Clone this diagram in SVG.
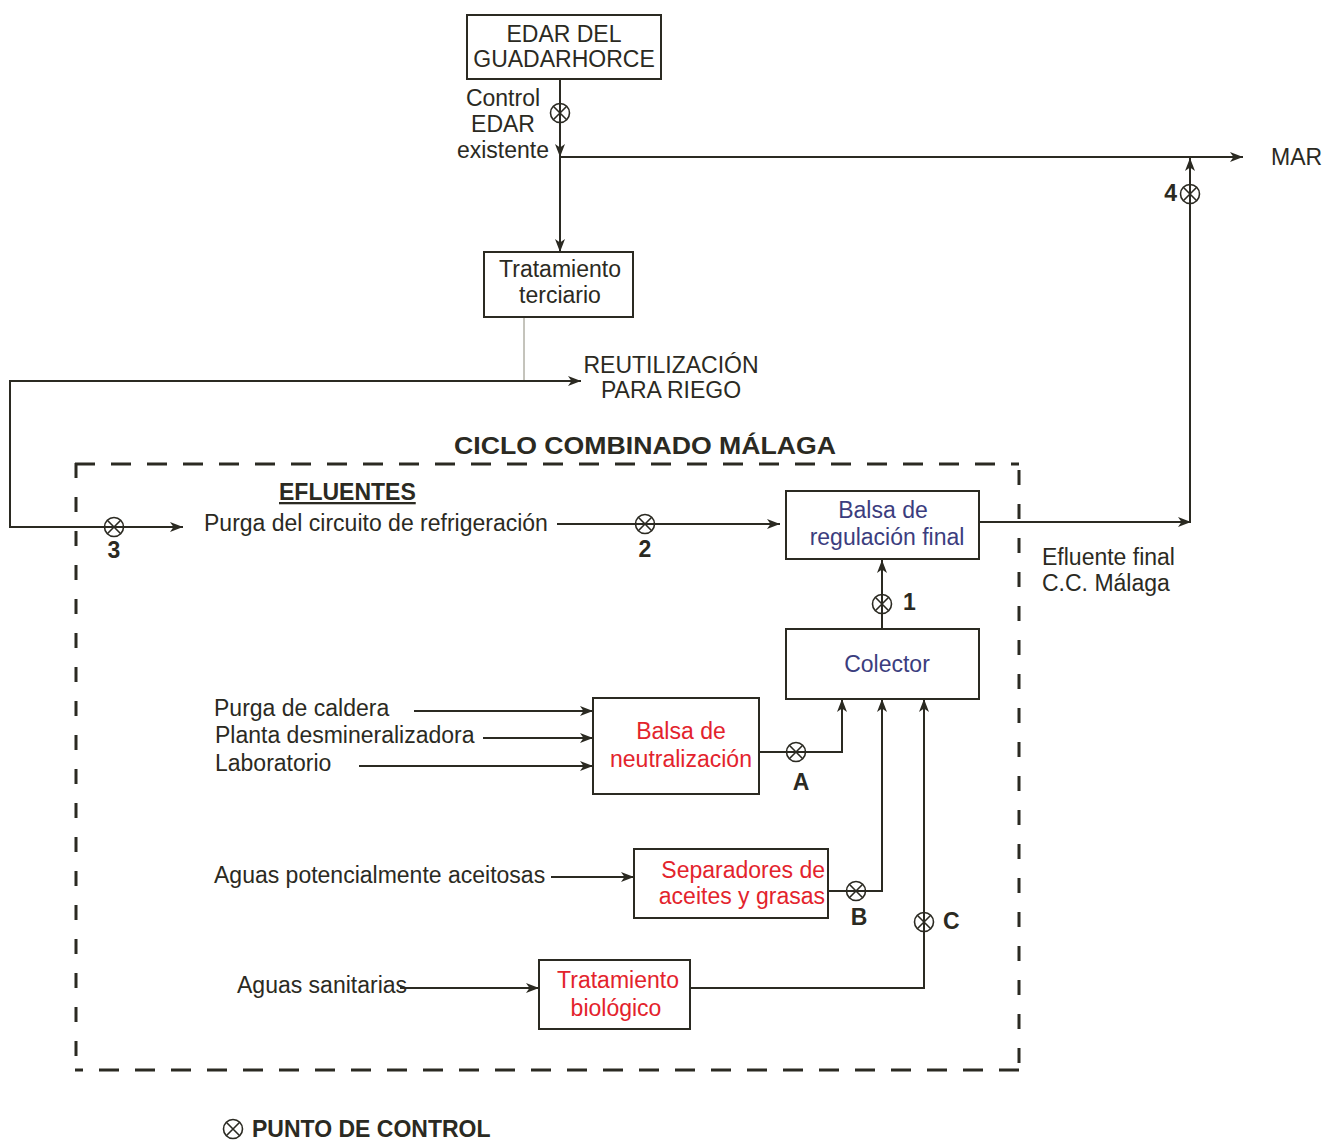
<svg xmlns="http://www.w3.org/2000/svg" xmlns:xlink="http://www.w3.org/1999/xlink" width="1323" height="1140" viewBox="0 0 1323 1140">
<style>
  .t { font-family: "Liberation Sans", Arial, sans-serif; font-size: 23px; fill: #2b2a22; }
  .b { font-weight: bold; }
  .red { fill: #e3232c; }
  .blue { fill: #3b3d7e; }
  .box { fill: #ffffff; stroke: #2b2a22; stroke-width: 2; }
  .ln { fill: none; stroke: #2b2a22; stroke-width: 2; }
  .thin { fill: none; stroke: #8a8878; stroke-width: 1; }
  .dash { fill: none; stroke: #2b2a22; stroke-width: 3; }
</style>
<defs>
  <marker id="arr" viewBox="0 0 13 10" refX="13" refY="5" markerWidth="13" markerHeight="10" markerUnits="userSpaceOnUse" orient="auto">
    <path d="M0,0 L13,5 L0,10 L3.5,5 z" fill="#2b2a22"/>
  </marker>
  <g id="ctl">
    <circle cx="0" cy="0" r="9.5" fill="none" stroke="#2b2a22" stroke-width="1.6"/>
    <path d="M-6.7,-6.7 L6.7,6.7 M-6.7,6.7 L6.7,-6.7" stroke="#2b2a22" stroke-width="1.6"/>
  </g>
</defs>
<rect width="1323" height="1140" fill="#ffffff"/>

<g id="boundary">
  <line class="dash" x1="75" y1="464" x2="1019" y2="464" stroke-dasharray="20 16"/>
  <line class="dash" x1="1019" y1="1070" x2="75" y2="1070" stroke-dasharray="20 16"/>
  <line class="dash" x1="76" y1="463" x2="76" y2="1071" stroke-dasharray="15 19"/>
  <line class="dash" x1="1019" y1="470" x2="1019" y2="1071" stroke-dasharray="15 19"/>
  <text class="t b" x="454" y="454" font-size="27" textLength="382" lengthAdjust="spacingAndGlyphs">CICLO COMBINADO MÁLAGA</text>
</g>

<g id="connectors">
  <path class="ln" d="M560,79 V157" marker-end="url(#arr)"/>
  <path class="ln" d="M560,157 V252" marker-end="url(#arr)"/>
  <path class="ln" d="M560,157 H1243" marker-end="url(#arr)"/>
  <path class="thin" d="M524,317 V381"/>
  <path class="ln" d="M10,381 H581" marker-end="url(#arr)"/>
  <path class="ln" d="M10,380 V527 H183" marker-end="url(#arr)"/>
  <path class="ln" d="M557,524 H780" marker-end="url(#arr)"/>
  <path class="ln" d="M979,522 H1191" marker-end="url(#arr)"/>
  <path class="ln" d="M1190,522 V158" marker-end="url(#arr)"/>
  <path class="ln" d="M882,629 V560" marker-end="url(#arr)"/>
  <path class="ln" d="M414,711 H593" marker-end="url(#arr)"/>
  <path class="ln" d="M483,738 H593" marker-end="url(#arr)"/>
  <path class="ln" d="M359,766 H593" marker-end="url(#arr)"/>
  <path class="ln" d="M759,752 H842 V699" marker-end="url(#arr)"/>
  <path class="ln" d="M551,877 H634" marker-end="url(#arr)"/>
  <path class="ln" d="M828,891 H882 V699" marker-end="url(#arr)"/>
  <path class="ln" d="M400,988 H539" marker-end="url(#arr)"/>
  <path class="ln" d="M690,988 H924 V699" marker-end="url(#arr)"/>
</g>

<g id="controls">
  <use xlink:href="#ctl" x="560" y="113"/>
  <use xlink:href="#ctl" x="1190" y="194"/>
  <text class="t b" x="1177" y="201" text-anchor="end" font-size="20">4</text>
  <use xlink:href="#ctl" x="114" y="527"/>
  <text class="t b" x="114" y="558" text-anchor="middle" font-size="20">3</text>
  <use xlink:href="#ctl" x="645" y="524"/>
  <text class="t b" x="645" y="557" text-anchor="middle" font-size="20">2</text>
  <use xlink:href="#ctl" x="882" y="604"/>
  <text class="t b" x="903" y="610" font-size="20">1</text>
  <use xlink:href="#ctl" x="796" y="752"/>
  <text class="t b" x="801" y="790" text-anchor="middle" font-size="20">A</text>
  <use xlink:href="#ctl" x="856" y="891"/>
  <text class="t b" x="859" y="925" text-anchor="middle" font-size="20">B</text>
  <use xlink:href="#ctl" x="924" y="922"/>
  <text class="t b" x="943" y="929" font-size="20">C</text>
</g>

<g id="edar">
  <rect class="box" x="467" y="15" width="194" height="64"/>
  <text class="t" x="564" y="42" text-anchor="middle">EDAR DEL</text>
  <text class="t" x="564" y="67" text-anchor="middle">GUADARHORCE</text>
</g>
<g id="control-edar-label">
  <text class="t" x="503" y="106" text-anchor="middle">Control</text>
  <text class="t" x="503" y="132" text-anchor="middle">EDAR</text>
  <text class="t" x="503" y="158" text-anchor="middle">existente</text>
</g>
<g id="mar">
  <text class="t" x="1271" y="165">MAR</text>
</g>
<g id="tratamiento-terciario">
  <rect class="box" x="484" y="252" width="149" height="65"/>
  <text class="t" x="560" y="277" text-anchor="middle">Tratamiento</text>
  <text class="t" x="560" y="303" text-anchor="middle">terciario</text>
</g>
<g id="reutilizacion">
  <text class="t" x="671" y="373" text-anchor="middle">REUTILIZACIÓN</text>
  <text class="t" x="671" y="398" text-anchor="middle">PARA RIEGO</text>
</g>
<g id="efluentes">
  <text class="t b" x="279" y="500" text-decoration="underline">EFLUENTES</text>
</g>
<g id="purga-refrigeracion">
  <text class="t" x="204" y="531">Purga del circuito de refrigeración</text>
</g>
<g id="balsa-regulacion">
  <rect class="box" x="786" y="491" width="193" height="68"/>
  <text class="t blue" x="883" y="518" text-anchor="middle">Balsa de</text>
  <text class="t blue" x="887" y="545" text-anchor="middle">regulación final</text>
</g>
<g id="efluente-final">
  <text class="t" x="1042" y="565">Efluente final</text>
  <text class="t" x="1042" y="591">C.C. Málaga</text>
</g>
<g id="colector">
  <rect class="box" x="786" y="629" width="193" height="70"/>
  <text class="t blue" x="887" y="672" text-anchor="middle">Colector</text>
</g>
<g id="inputs-neutralizacion">
  <text class="t" x="214" y="716">Purga de caldera</text>
  <text class="t" x="215" y="743">Planta desmineralizadora</text>
  <text class="t" x="215" y="771">Laboratorio</text>
</g>
<g id="balsa-neutralizacion">
  <rect class="box" x="593" y="698" width="166" height="96"/>
  <text class="t red" x="681" y="739" text-anchor="middle">Balsa de</text>
  <text class="t red" x="681" y="767" text-anchor="middle">neutralización</text>
</g>
<g id="aguas-aceitosas">
  <text class="t" x="214" y="883">Aguas potencialmente aceitosas</text>
</g>
<g id="separadores">
  <rect class="box" x="634" y="849" width="194" height="69"/>
  <text class="t red" x="825" y="878" text-anchor="end">Separadores de</text>
  <text class="t red" x="825" y="904" text-anchor="end">aceites y grasas</text>
</g>
<g id="aguas-sanitarias">
  <text class="t" x="237" y="993">Aguas sanitarias</text>
</g>
<g id="tratamiento-biologico">
  <rect class="box" x="539" y="960" width="151" height="69"/>
  <text class="t red" x="618" y="988" text-anchor="middle">Tratamiento</text>
  <text class="t red" x="616" y="1016" text-anchor="middle">biológico</text>
</g>
<g id="legend">
  <use xlink:href="#ctl" x="233" y="1129"/>
  <text class="t b" x="252" y="1137">PUNTO DE CONTROL</text>
</g>
</svg>
